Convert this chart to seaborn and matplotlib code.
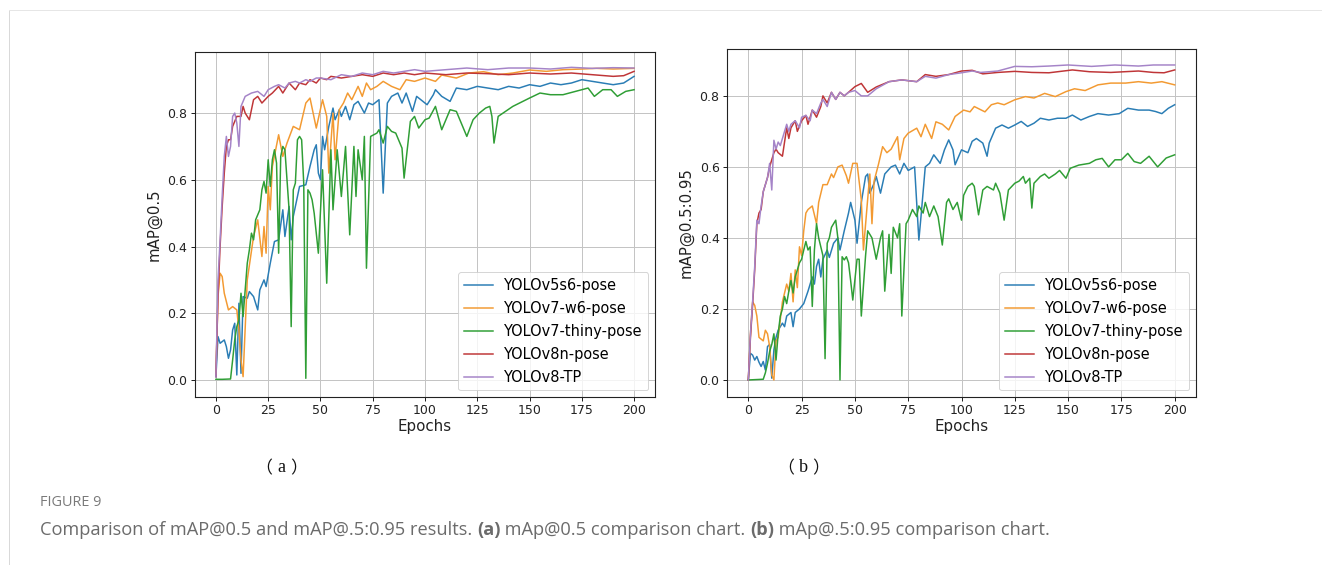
import matplotlib
matplotlib.use("Agg")
import matplotlib.pyplot as plt
import seaborn as sns
from matplotlib.lines import Line2D

# ---------------- data (epoch, value) ----------------
SERIES_NAMES = ["YOLOv5s6-pose", "YOLOv7-w6-pose", "YOLOv7-thiny-pose", "YOLOv8n-pose", "YOLOv8-TP"]
COLORS = ["#2a7db5", "#f39a32", "#2f9e35", "#bf3537", "#a584c8"]

# Panel (a): mAP@0.5
A_V5 = [(0,0.01),(1,0.13),(2,0.11),(3,0.115),(4,0.12),(5,0.10),(6,0.065),(7,0.09),(8,0.15),(9,0.17),
        (10,0.015),(11,0.23),(12,0.02),(13,0.25),(15,0.245),(16,0.265),(18,0.25),(20,0.21),(21,0.27),
        (23,0.30),(24,0.28),(26,0.35),(28,0.415),(30,0.42),(32,0.51),(33,0.43),(35,0.52),(36,0.42),
        (37,0.49),(40,0.58),(43,0.585),(45,0.64),(47,0.69),(48,0.705),(49,0.62),(50,0.60),(51,0.73),
        (52,0.69),(54,0.76),(56,0.815),(57,0.78),(59,0.81),(60,0.79),(62,0.82),(64,0.78),(66,0.825),
        (68,0.835),(71,0.80),(73,0.83),(75,0.825),(78,0.84),(80,0.56),(82,0.83),(84,0.85),(87,0.86),
        (89,0.83),(91,0.86),(94,0.805),(96,0.85),(98,0.84),(101,0.825),(104,0.855),(105,0.87),(108,0.85),
        (112,0.835),(115,0.875),(120,0.87),(125,0.88),(130,0.875),(135,0.87),(140,0.88),(145,0.875),
        (150,0.885),(155,0.88),(160,0.89),(165,0.885),(170,0.89),(175,0.90),(180,0.895),(185,0.89),
        (190,0.885),(195,0.89),(200,0.91)]
A_W6 = [(0,0.02),(1,0.25),(2,0.32),(3,0.31),(4,0.26),(6,0.21),(8,0.22),(10,0.21),(11,0.15),(12,0.06),
        (13,0.01),(15,0.30),(18,0.43),(20,0.48),(22,0.37),(23,0.46),(24,0.38),(25,0.58),(26,0.51),
        (27,0.64),(30,0.735),(32,0.67),(34,0.71),(37,0.76),(40,0.75),(43,0.83),(45,0.845),(48,0.755),
        (51,0.84),(53,0.79),(54,0.62),(56,0.80),(57,0.66),(59,0.81),(61,0.83),(63,0.86),(65,0.84),
        (68,0.88),(70,0.85),(72,0.89),(74,0.87),(77,0.88),(80,0.895),(84,0.88),(88,0.87),(91,0.90),
        (95,0.895),(100,0.905),(105,0.895),(108,0.914),(115,0.905),(121,0.92),(128,0.924),(135,0.915),
        (142,0.92),(150,0.929),(158,0.925),(166,0.93),(175,0.932),(182,0.934),(190,0.932),(200,0.934)]
A_V7T = [(0,0.002),(3,0.002),(7,0.003),(8,0.06),(9,0.12),(10,0.16),(11,0.18),(12,0.26),(13,0.19),
         (14,0.27),(15,0.35),(16,0.39),(17,0.44),(18,0.42),(19,0.48),(21,0.51),(22,0.57),(23,0.595),
         (24,0.56),(25,0.66),(26,0.58),(27,0.66),(28,0.69),(29,0.65),(30,0.38),(31,0.67),(32,0.70),
         (33,0.69),(35,0.51),(36,0.16),(37,0.57),(38,0.59),(39,0.72),(40,0.73),(41,0.72),(42,0.59),
         (43,0.005),(44,0.57),(45,0.56),(46,0.54),(47,0.50),(49,0.38),(51,0.63),(53,0.29),(55,0.69),
         (56,0.51),(58,0.69),(60,0.55),(62,0.70),(64,0.435),(66,0.70),(67,0.55),(68,0.69),(70,0.60),
         (71,0.73),(72,0.335),(74,0.73),(77,0.74),(78,0.75),(80,0.71),(82,0.76),(84,0.745),(86,0.74),
         (89,0.695),(90,0.605),(93,0.775),(95,0.79),(97,0.755),(100,0.78),(102,0.785),(105,0.82),
         (108,0.75),(112,0.81),(115,0.805),(120,0.73),(123,0.78),(126,0.80),(129,0.815),(131,0.82),
         (132,0.79),(133,0.71),(135,0.79),(142,0.82),(150,0.845),(155,0.86),(160,0.855),(166,0.855),
         (172,0.865),(178,0.875),(181,0.85),(185,0.87),(189,0.87),(192,0.85),(196,0.865),(200,0.87)]
A_V8N = [(0,0.01),(1,0.25),(2,0.40),(3,0.52),(4,0.62),(5,0.70),(6,0.72),(7,0.72),(8,0.76),(10,0.79),
         (12,0.79),(13,0.82),(14,0.80),(16,0.78),(18,0.84),(20,0.85),(22,0.83),(25,0.85),(27,0.86),
         (30,0.88),(32,0.86),(35,0.89),(38,0.87),(40,0.89),(43,0.885),(45,0.90),(48,0.89),(50,0.905),
         (53,0.90),(55,0.91),(60,0.905),(65,0.91),(70,0.915),(75,0.91),(80,0.92),(85,0.915),(90,0.92),
         (95,0.915),(100,0.92),(110,0.915),(120,0.92),(130,0.918),(140,0.915),(150,0.92),(160,0.917),
         (170,0.92),(180,0.915),(190,0.91),(195,0.912),(200,0.925)]
A_V8TP = [(0,0.01),(1,0.30),(2,0.42),(3,0.55),(4,0.67),(5,0.73),(6,0.67),(7,0.70),(8,0.79),(9,0.80),
          (10,0.77),(11,0.70),(12,0.82),(14,0.85),(17,0.86),(20,0.865),(23,0.85),(25,0.87),(28,0.88),
          (30,0.885),(33,0.875),(35,0.89),(38,0.895),(40,0.89),(43,0.90),(45,0.895),(48,0.905),
          (50,0.905),(55,0.90),(60,0.915),(65,0.91),(70,0.92),(75,0.915),(80,0.925),(85,0.92),(90,0.925),
          (95,0.93),(100,0.925),(110,0.93),(120,0.935),(130,0.93),(140,0.935),(150,0.935),(160,0.932),
          (170,0.937),(180,0.934),(190,0.936),(200,0.935)]

# Panel (b): mAP@0.5:0.95
B_V5 = [(0,0.0),(1,0.075),(2,0.07),(3,0.056),(4,0.066),(5,0.05),(6,0.038),(7,0.052),(8,0.028),(9,0.094),
        (10,0.10),(11,0.005),(12,0.085),(13,0.12),(14,0.14),(15,0.15),(16,0.16),(17,0.15),(18,0.18),
        (20,0.19),(21,0.15),(22,0.19),(24,0.20),(26,0.215),(28,0.25),(30,0.29),(31,0.27),(32,0.32),
        (33,0.34),(34,0.29),(35,0.34),(37,0.366),(38,0.345),(40,0.385),(42,0.40),(43,0.366),(45,0.42),
        (47,0.47),(48,0.50),(50,0.45),(51,0.385),(53,0.50),(55,0.573),(56,0.58),(57,0.526),(59,0.554),
        (60,0.573),(62,0.526),(64,0.58),(67,0.60),(69,0.605),(71,0.58),(73,0.61),(75,0.59),(78,0.60),
        (80,0.394),(81,0.46),(83,0.60),(85,0.61),(87,0.634),(90,0.61),(92,0.648),(94,0.676),(96,0.648),
        (97,0.606),(100,0.648),(103,0.64),(105,0.672),(107,0.68),(110,0.667),(112,0.63),(113,0.667),
        (116,0.709),(119,0.718),(122,0.709),(125,0.718),(128,0.728),(131,0.714),(134,0.723),(137,0.737),
        (141,0.732),(145,0.737),(149,0.737),(152,0.746),(156,0.732),(160,0.742),(164,0.75),(169,0.746),
        (174,0.75),(178,0.765),(183,0.76),(188,0.76),(191,0.756),(194,0.75),(197,0.765),(200,0.775)]
B_W6 = [(0,0.0),(1,0.13),(2,0.22),(3,0.21),(4,0.18),(5,0.12),(7,0.11),(8,0.14),(9,0.13),(10,0.094),
        (11,0.014),(12,0.0),(13,0.11),(14,0.12),(16,0.22),(18,0.27),(19,0.25),(20,0.30),(21,0.22),
        (22,0.31),(23,0.26),(24,0.375),(25,0.35),(26,0.42),(27,0.47),(28,0.48),(30,0.49),(32,0.44),
        (33,0.50),(35,0.55),(37,0.55),(39,0.58),(40,0.57),(42,0.60),(44,0.605),(46,0.575),(47,0.554),
        (49,0.61),(51,0.61),(53,0.507),(54,0.366),(56,0.51),(57,0.58),(58,0.44),(59,0.56),(61,0.606),
        (63,0.657),(65,0.64),(67,0.65),(70,0.685),(71,0.62),(73,0.68),(75,0.695),(79,0.709),(81,0.685),
        (83,0.72),(86,0.68),(88,0.727),(91,0.72),(94,0.704),(97,0.742),(101,0.76),(104,0.755),(106,0.77),
        (111,0.755),(114,0.775),(117,0.78),(120,0.775),(125,0.789),(130,0.798),(134,0.794),(139,0.807),
        (144,0.798),(149,0.812),(153,0.82),(158,0.815),(164,0.831),(170,0.836),(177,0.836),(183,0.84),
        (189,0.836),(194,0.84),(200,0.831)]
B_V7T = [(0,0.0),(7,0.002),(8,0.02),(9,0.047),(10,0.08),(11,0.10),(12,0.13),(13,0.056),(14,0.13),
         (15,0.18),(16,0.20),(17,0.235),(18,0.215),(19,0.25),(20,0.28),(21,0.245),(22,0.29),(23,0.31),
         (24,0.33),(25,0.34),(26,0.366),(27,0.39),(28,0.366),(29,0.375),(30,0.207),(31,0.366),(32,0.44),
         (33,0.40),(35,0.35),(36,0.06),(37,0.385),(38,0.40),(39,0.43),(41,0.45),(42,0.40),(43,0.0),
         (44,0.347),(45,0.338),(46,0.347),(47,0.33),(48,0.28),(49,0.225),(51,0.34),(52,0.34),(53,0.18),
         (55,0.35),(56,0.42),(58,0.40),(60,0.34),(62,0.40),(63,0.42),(64,0.25),(66,0.41),(67,0.30),
         (68,0.43),(70,0.40),(71,0.44),(72,0.18),(74,0.44),(75,0.45),(77,0.48),(79,0.46),(80,0.49),
         (82,0.47),(83,0.50),(85,0.46),(87,0.49),(89,0.46),(91,0.38),(93,0.50),(94,0.51),(96,0.48),
         (98,0.50),(100,0.45),(101,0.52),(103,0.545),(105,0.554),(106,0.545),(108,0.465),(110,0.535),
         (112,0.545),(115,0.535),(116,0.554),(118,0.526),(120,0.45),(122,0.535),(125,0.554),(127,0.56),
         (129,0.573),(130,0.554),(132,0.568),(133,0.484),(134,0.554),(137,0.573),(139,0.58),(141,0.568),
         (144,0.58),(146,0.59),(149,0.568),(151,0.596),(155,0.605),(160,0.61),(163,0.62),(166,0.624),
         (169,0.60),(172,0.62),(175,0.62),(178,0.638),(181,0.615),(184,0.61),(188,0.63),(192,0.60),
         (196,0.625),(200,0.634)]
B_V8N = [(0,0.0),(1,0.12),(2,0.21),(3,0.31),(4,0.44),(5,0.47),(6,0.48),(7,0.53),(8,0.55),(9,0.57),
         (10,0.60),(12,0.64),(13,0.65),(14,0.64),(16,0.63),(18,0.71),(19,0.68),(20,0.71),(22,0.73),
         (23,0.70),(25,0.73),(27,0.745),(28,0.72),(30,0.76),(32,0.74),(34,0.77),(35,0.80),(37,0.78),
         (39,0.81),(41,0.79),(43,0.81),(45,0.80),(47,0.81),(50,0.826),(53,0.835),(56,0.81),(60,0.825),
         (66,0.84),(72,0.845),(79,0.84),(83,0.86),(88,0.855),(94,0.86),(100,0.87),(105,0.872),(110,0.862),
         (117,0.866),(125,0.869),(133,0.866),(141,0.865),(152,0.873),(160,0.868),(170,0.866),(183,0.87),
         (190,0.866),(195,0.865),(200,0.873)]
B_V8TP = [(0,0.0),(1,0.13),(2,0.22),(3,0.32),(4,0.45),(5,0.44),(6,0.49),(7,0.53),(8,0.55),(9,0.57),
          (10,0.61),(11,0.535),(12,0.675),(13,0.65),(14,0.67),(15,0.66),(17,0.70),(18,0.72),(19,0.70),
          (20,0.72),(22,0.73),(24,0.71),(25,0.74),(27,0.745),(29,0.73),(30,0.76),(32,0.75),(34,0.78),
          (35,0.79),(37,0.77),(39,0.81),(41,0.79),(43,0.81),(45,0.80),(47,0.81),(50,0.815),(53,0.80),
          (56,0.80),(60,0.82),(66,0.84),(72,0.845),(79,0.84),(83,0.855),(88,0.85),(94,0.86),(100,0.865),
          (105,0.87),(109,0.866),(117,0.87),(125,0.883),(133,0.882),(141,0.884),(150,0.887),(161,0.883),
          (172,0.887),(183,0.884),(190,0.887),(200,0.887)]

Y_TICKS = [0.0, 0.2, 0.4, 0.6, 0.8]
X_TICKS = [0, 25, 50, 75, 100, 125, 150, 175, 200]

# ---------------- figure ----------------
DPI = 72
fig = plt.figure(figsize=(1322 / DPI, 565 / DPI), dpi=DPI, facecolor="white")
W, H = 1322, 565

def axes_px(left, top, right, bottom):
    return fig.add_axes([left / W, 1 - bottom / H, (right - left) / W, (bottom - top) / H])

ax_a = axes_px(195, 52, 655, 397)
ax_b = axes_px(727, 49, 1196, 397)

def draw_panel(ax, series, ylabel, ylim):
    for name, color, pts in zip(SERIES_NAMES, COLORS, series):
        xs = [p[0] for p in pts]
        ys = [p[1] for p in pts]
        sns.lineplot(x=xs, y=ys, ax=ax, color=color, label=name, linewidth=1.5,
                     estimator=None, sort=False)
    ax.set_xlim(-10, 210)
    ax.set_ylim(*ylim)
    ax.set_xticks(X_TICKS)
    ax.set_yticks(Y_TICKS)
    ax.set_yticklabels([f"{v:.1f}" for v in Y_TICKS])
    ax.tick_params(labelsize=12.5, length=4, width=1, colors="#222222")
    ax.grid(True, color="#c4c4c4", linewidth=1.0)
    ax.set_axisbelow(True)
    for s in ax.spines.values():
        s.set_color("#222222")
        s.set_linewidth(1.1)
    ax.set_xlabel("Epochs", fontsize=15, color="#222222", labelpad=2)
    ax.set_ylabel(ylabel, fontsize=15, color="#222222", labelpad=6)
    leg = ax.legend(loc="lower right", fontsize=14.5, frameon=True, fancybox=True,
                    framealpha=0.8, edgecolor="#cccccc", handlelength=2.0, borderaxespad=0.45,
                    labelspacing=0.55)
    for line in leg.get_lines():
        line.set_linewidth(1.5)

draw_panel(ax_a, [A_V5, A_W6, A_V7T, A_V8N, A_V8TP], "mAP@0.5", (-0.051, 0.983))
draw_panel(ax_b, [B_V5, B_W6, B_V7T, B_V8N, B_V8TP], "mAP@0.5:0.95", (-0.048, 0.932))

# sub-panel labels
for cx, letter in [(281, "a"), (803, "b")]:
    fig.text((cx - 9) / W, 1 - 468 / H, "（", ha="right", va="center", fontsize=17,
             family=["Noto Sans CJK SC"], color="#111111")
    fig.text(cx / W, 1 - 468 / H, letter, ha="center", va="center", fontsize=18,
             family=["Liberation Serif"], color="#111111")
    fig.text((cx + 9) / W, 1 - 468 / H, "）", ha="left", va="center", fontsize=17,
             family=["Noto Sans CJK SC"], color="#111111")

# card border lines
fig.add_artist(Line2D([9 / W, 9 / W], [0, 1 - 10 / H], transform=fig.transFigure,
                      color="#d9d9d9", linewidth=1))
fig.add_artist(Line2D([9 / W, 1], [1 - 10 / H, 1 - 10 / H], transform=fig.transFigure,
                      color="#e6e6e6", linewidth=1))

# caption
fig.text(40 / W, 1 - 503 / H, "FIGURE 9", ha="left", va="center", fontsize=14.5,
         family="Open Sans", color="#7a7a7a")

renderer = fig.canvas.get_renderer()
parts = [("Comparison of mAP@0.5 and mAP@.5:0.95 results. ", "normal"),
         ("(a)", "bold"),
         (" mAp@0.5 comparison chart. ", "normal"),
         ("(b)", "bold"),
         (" mAp@.5:0.95 comparison chart.", "normal")]
x_px = 40
for txt, wt in parts:
    t = fig.text(x_px / W, 1 - 530 / H, txt, ha="left", va="center", fontsize=18.2,
                 family="Open Sans", weight=wt, color="#6b6b6b")
    bb = t.get_window_extent(renderer)
    x_px += bb.width

fig.savefig("out.png", dpi=DPI, facecolor="white")
